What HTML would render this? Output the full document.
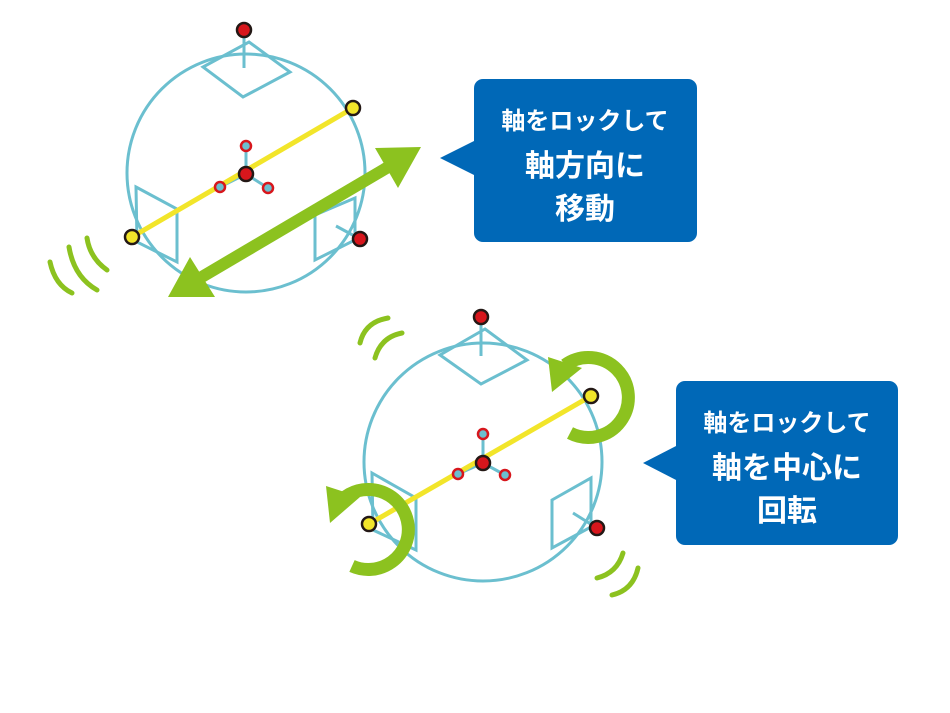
<!DOCTYPE html>
<html><head><meta charset="utf-8"><style>
html,body{margin:0;padding:0;background:#fff;}
svg{display:block}
text{font-family:"Liberation Sans","Noto Sans CJK JP",sans-serif;font-weight:bold;fill:#fff;text-anchor:middle}
</style></head><body>
<svg width="950" height="713" viewBox="0 0 950 713" xmlns="http://www.w3.org/2000/svg">
<g fill="none" stroke="#6bbfcf" stroke-width="3">
  <circle cx="246" cy="173" r="119"/>
  <polygon points="249,42 290,72 243,97 203,67"/>
  <line x1="244" y1="30" x2="244" y2="68"/>
  <polygon points="136,187 177,209 177,262 137,242"/>
  <polygon points="315,215 355,198 355,240 315,260"/>
  <line x1="336" y1="226" x2="360" y2="239"/>
  <line x1="246" y1="147" x2="246" y2="174"/>
  <line x1="220" y1="187" x2="246" y2="174"/>
  <line x1="268" y1="188" x2="246" y2="174"/>
</g>
<line x1="132" y1="237" x2="353" y2="108" stroke="#f2e52a" stroke-width="5"/>
<g stroke="#8cc21f" stroke-width="12" fill="#8cc21f">
  <line x1="195" y1="281" x2="395" y2="163"/>
</g>
<polygon points="421,147 375,148 398,188" fill="#8cc21f"/>
<polygon points="168,297 215,297 190,257" fill="#8cc21f"/>
<g fill="none" stroke="#8cc21f" stroke-width="5" stroke-linecap="round">
  <path d="M87,238 Q90,258 107,270"/>
  <path d="M69,247 Q74,277 97,290"/>
  <path d="M50,262 Q55,285 72,293"/>
</g>
<g stroke="#231815" stroke-width="2.5">
  <circle cx="244" cy="30" r="7" fill="#d7161c"/>
  <circle cx="360" cy="239" r="7" fill="#d7161c"/>
  <circle cx="353" cy="108" r="7" fill="#f2e52a"/>
  <circle cx="132" cy="237" r="7" fill="#f2e52a"/>
  <circle cx="246" cy="174" r="7" fill="#d7161c"/>
</g>
<g stroke="#d7161c" stroke-width="2.5" fill="#6bbfcf">
  <circle cx="246" cy="146" r="5"/>
  <circle cx="220" cy="187" r="5"/>
  <circle cx="268" cy="188" r="5"/>
</g>

<g fill="none" stroke="#6bbfcf" stroke-width="3">
  <circle cx="483" cy="462" r="119"/>
  <polygon points="485,329 527,360 481,384 440,355"/>
  <line x1="481" y1="317" x2="481" y2="356"/>
  <polygon points="372,473 416,498 416,550 373,530"/>
  <polygon points="552,500 591,478 591,527 552,548"/>
  <line x1="573" y1="513" x2="597" y2="528"/>
  <line x1="483" y1="434" x2="483" y2="463"/>
  <line x1="458" y1="474" x2="483" y2="463"/>
  <line x1="505" y1="475" x2="483" y2="463"/>
</g>
<line x1="369" y1="524" x2="591" y2="396" stroke="#f2e52a" stroke-width="5"/>
<g fill="none" stroke="#8cc21f" stroke-width="13">
  <path d="M570,433 A40,40 0 1 0 565,365"/>
  <path d="M352,566 A40,40 0 1 0 345,497"/>
</g>
<polygon points="548,357 582,368 552,392" fill="#8cc21f"/>
<polygon points="326,486 360,497 330,523" fill="#8cc21f"/>
<g fill="none" stroke="#8cc21f" stroke-width="5" stroke-linecap="round">
  <path d="M360,343 Q365,322 388,318"/>
  <path d="M375,358 Q381,337 402,333"/>
  <path d="M597,578 Q617,573 623,553"/>
  <path d="M612,595 Q633,590 638,568"/>
</g>
<g stroke="#231815" stroke-width="2.5">
  <circle cx="481" cy="317" r="7" fill="#d7161c"/>
  <circle cx="597" cy="528" r="7" fill="#d7161c"/>
  <circle cx="591" cy="396" r="7" fill="#f2e52a"/>
  <circle cx="369" cy="524" r="7" fill="#f2e52a"/>
  <circle cx="483" cy="463" r="7" fill="#d7161c"/>
</g>
<g stroke="#d7161c" stroke-width="2.5" fill="#6bbfcf">
  <circle cx="483" cy="434" r="5"/>
  <circle cx="458" cy="474" r="5"/>
  <circle cx="505" cy="475" r="5"/>
</g>

<rect x="474" y="79" width="223" height="163" rx="9" fill="#0068b7"/>
<polygon points="440,158 476,140 476,176" fill="#0068b7"/>
<text x="585" y="129" font-size="24">軸をロックして</text>
<text x="585" y="176" font-size="30">軸方向に</text>
<text x="585" y="219" font-size="30">移動</text>

<rect x="676" y="381" width="222" height="164" rx="9" fill="#0068b7"/>
<polygon points="643,463 678,445 678,481" fill="#0068b7"/>
<text x="787" y="431" font-size="24">軸をロックして</text>
<text x="787" y="478" font-size="30">軸を中心に</text>
<text x="787" y="521" font-size="30">回転</text>
</svg>
</body></html>
